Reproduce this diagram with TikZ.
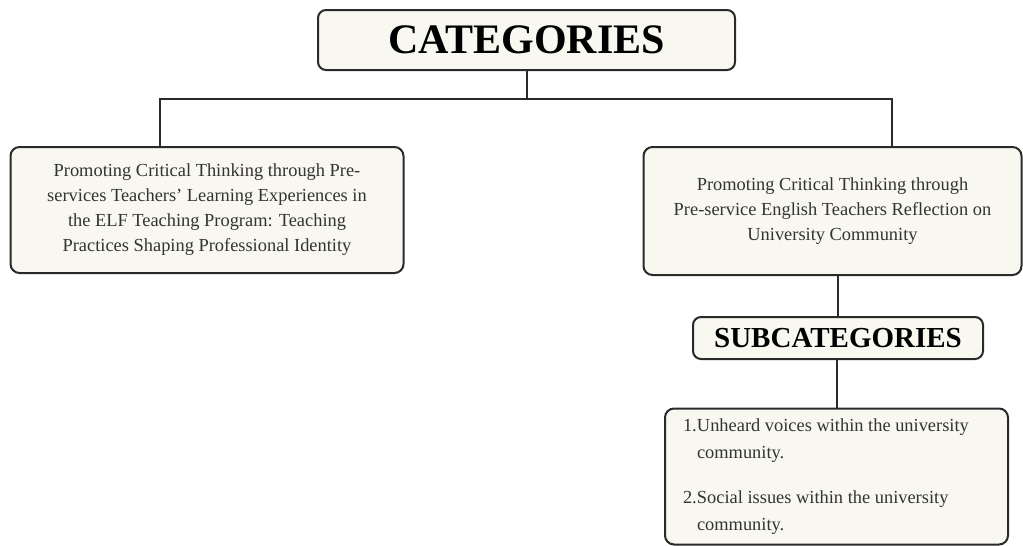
\documentclass[tikz,border=0pt]{standalone}
\usepackage{fontspec}
\setmainfont{Liberation Serif}
\usepackage{xcolor}
\usepackage{tikz}
\usetikzlibrary{calc,positioning}
\definecolor{boxfill}{HTML}{F8F7F0}
\definecolor{boxedge}{HTML}{2A2A2A}
\definecolor{boxtext}{HTML}{333333}

\begin{document}
\begin{tikzpicture}[x=1pt, y=-1pt,
  head/.style={draw=boxedge, line width=2pt, rounded corners=8pt, fill=boxfill,
               align=center, font=\fontsize{42}{45}\selectfont\bfseries, text=black},
  cat/.style={draw=boxedge, line width=2pt, rounded corners=9pt, fill=boxfill,
              align=center, font=\fontsize{18.4}{25}\selectfont, text=boxtext},
  link/.style={draw=boxedge, line width=2pt}]
\useasboundingbox (0,0) rectangle (1023,546);
\node[head, minimum width=417pt, minimum height=60pt] (categories) at (526.5,40) {CATEGORIES};
\node[cat, minimum width=393pt, minimum height=126pt] (teaching) at (207,210) {Promoting Critical Thinking through Pre-\\
  services Teachers' Learning Experiences in\\
  the ELF Teaching Program: Teaching\\
  Practices Shaping Professional Identity};
\node[cat, minimum width=378pt, minimum height=128pt] (reflection) at (832.5,211) {Promoting Critical Thinking through\\
  Pre-service English Teachers Reflection on\\
  University Community};
\node[head, font=\fontsize{29}{32}\selectfont\bfseries, minimum width=290pt, minimum height=42pt] (subcategories) at (838,338) {SUBCATEGORIES};
\node[cat, align=flush left, text width=307pt, inner xsep=18pt, minimum height=136pt,
      font=\fontsize{18.4}{27}\selectfont] (issues) at (836.5,476.5) {\makebox[14pt][l]{1.}Unheard voices within the university\\
  \hspace*{14pt}community.\\[18pt]
  \makebox[14pt][l]{2.}Social issues within the university\\
  \hspace*{14pt}community.};
\coordinate (busL) at (160,99);
\coordinate (busR) at (892,99);
\draw[link] (categories.south) -- (categories.south |- busL);
\draw[link] (busL |- teaching.north) -- (busL) -- (busR) -- (busR |- reflection.north);
\draw[link] (subcategories.north) -- (subcategories.north |- reflection.south);
\draw[link] (issues.north) -- (issues.north |- subcategories.south);
\end{tikzpicture}
\end{document}
